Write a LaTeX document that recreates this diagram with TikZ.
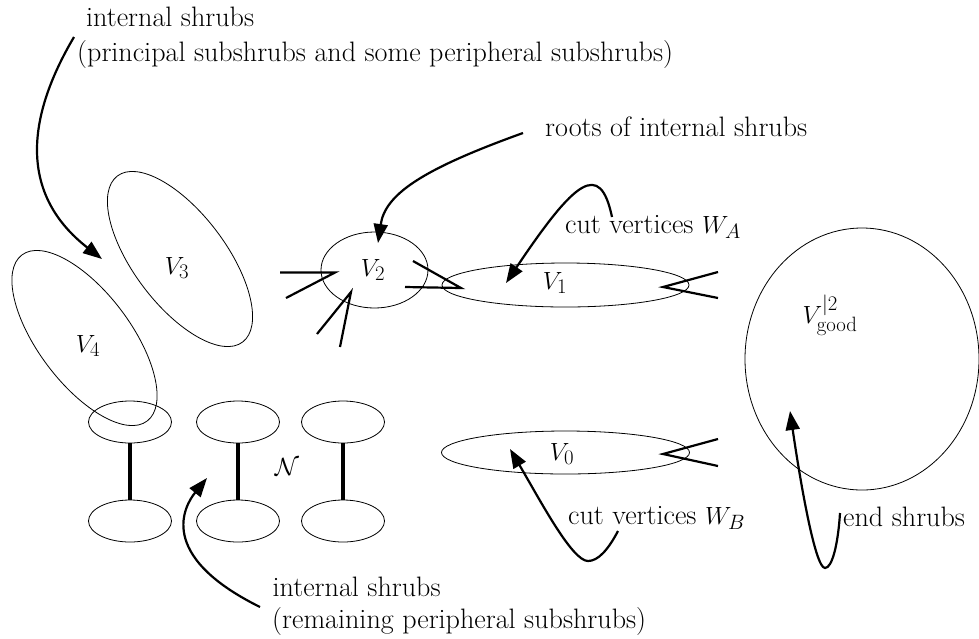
\documentclass[tikz,border=0pt]{standalone}
\usetikzlibrary{shapes.geometric,arrows.meta}
\begin{document}
\begin{tikzpicture}[x=1pt,y=-1pt,
  txt/.style={font=\fontsize{28.1}{33}\selectfont, inner sep=0pt},
  blob/.style={draw, ellipse, inner sep=0pt, line width=0.8pt},
  spike/.style={line width=2.2pt},
  pointer/.style={line width=2.2pt, -{Triangle[length=19pt,width=14pt]}},
  bar/.style={line width=4.2pt}]
\useasboundingbox (0,0) rectangle (979,638);

% ellipses
\node[blob, minimum width=208pt, minimum height=92pt, rotate=-53] (e3) at (180,259) {};
\node[blob, minimum width=208pt, minimum height=92pt, rotate=-53] (e4) at (84.5,338) {};
\node[blob, minimum width=107pt, minimum height=76pt] (e2) at (374.5,270) {};
\node[blob, minimum width=247pt, minimum height=44pt] (e1) at (565.5,285) {};
\node[blob, minimum width=248pt, minimum height=43pt] (e0) at (565.5,452.5) {};
\node[blob, minimum width=234pt, minimum height=262pt] (eg) at (862,359) {};

\foreach \i/\x in {1/130,2/238,3/343}{
  \node[blob, minimum width=83pt, minimum height=42pt] (t\i) at (\x,422) {};
  \node[blob, minimum width=83pt, minimum height=42pt] (b\i) at (\x,521) {};
  \draw[bar] (t\i.south) -- (b\i.north);
}

% labels
\node[txt] (l3) at (177,268) {$V_3$};
\node[txt] (l4) at (88,346) {$V_4$};
\node[txt] (l2) at (373,270) {$V_2$};
\node[txt] (l1) at (555,283) {$V_1$};
\node[txt] (l0) at (562,454) {$V_0$};
\node[txt] (ln) at (287,467) {$\mathcal{N}$};
\node[txt] (lg) at (830,315) {$V^{|2}_{\mathrm{good}}$};

% texts
\node[txt, anchor=base west] (ta1) at (86,26) {internal shrubs};
\node[txt, anchor=base west] (ta2) at (77,61.7) {(principal subshrubs and some peripheral subshrubs)};
\node[txt, anchor=base west] (tr) at (545,136.5) {roots of internal shrubs};
\node[txt, anchor=base west] (twa) at (565,233) {cut vertices $W_A$};
\node[txt, anchor=base west] (twb) at (568,524) {cut vertices $W_B$};
\node[txt, anchor=base west] (tes) at (843,526.5) {end shrubs};
\node[txt, anchor=base west] (tb1) at (272.5,596) {internal shrubs};
\node[txt, anchor=base west] (tb2) at (272,628) {(remaining peripheral subshrubs)};

% spikes
\coordinate (p1t) at (335,272.5); \coordinate (p1a) at (280,272.5); \coordinate (p1b) at (286,298);
\coordinate (p2t) at (351,292);   \coordinate (p2a) at (317,334);   \coordinate (p2b) at (340,347);
\coordinate (p3t) at (461,288);   \coordinate (p3a) at (413,261);   \coordinate (p3b) at (405,287);
\coordinate (p4t) at (663,287);   \coordinate (p4a) at (718,272);   \coordinate (p4b) at (718,298);
\coordinate (p5t) at (663,454);   \coordinate (p5a) at (718,439);   \coordinate (p5b) at (718,466);
\foreach \k in {1,...,5}{ \draw[spike] (p\k a) -- (p\k t) -- (p\k b); }

% arrows
\coordinate (a1s) at (74,37);   \coordinate (a1e) at (102,259);
\coordinate (a2s) at (523,133); \coordinate (a2e) at (378,243);
\coordinate (a3s) at (612,217); \coordinate (a3e) at (506,283);
\coordinate (a4s) at (618,531); \coordinate (a4m) at (588,561); \coordinate (a4e) at (510,449);
\coordinate (a5s) at (840,513); \coordinate (a5m) at (825,568); \coordinate (a5e) at (790,411);
\coordinate (a6s) at (260,607); \coordinate (a6e) at (207,478);

\draw[pointer] (a1s) .. controls (25,120) and (20,195) .. (a1e);
\draw[pointer] (a2s) .. controls (420,170) and (385,195) .. (a2e);
\draw[pointer] (a3s) .. controls (600,160) and (575,180) .. (a3e);
\draw[pointer] (a4s) .. controls (608,550) and (598,561) .. (a4m) .. controls (572,561) and (540,500) .. (a4e);
\draw[pointer] (a5s) .. controls (838,545) and (832,568) .. (a5m) .. controls (815,568) and (800,480) .. (a5e);
\draw[pointer] (a6s) .. controls (155,555) and (185,505) .. (a6e);
\end{tikzpicture}
\end{document}
